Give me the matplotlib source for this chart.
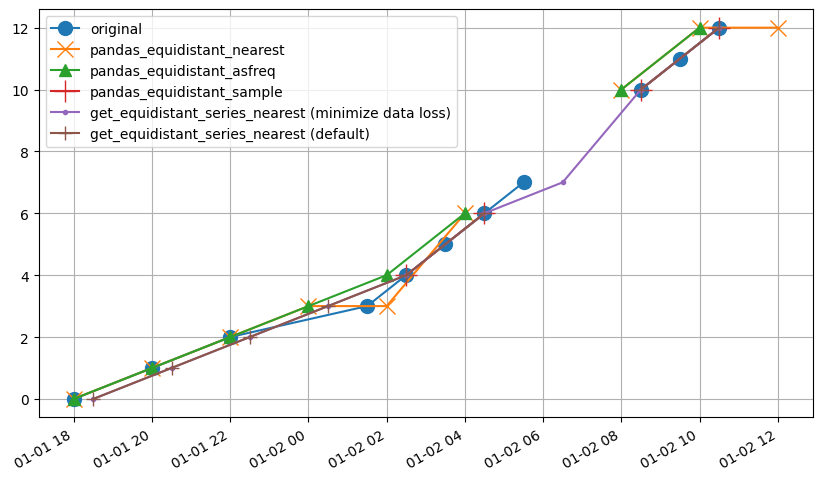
import numpy as np
import pandas as pd
from matplotlib import pyplot as plt
import matplotlib.dates as mdates

nan = np.nan

# original (irregular) series
orig_times = ["2021-01-01 18:00", "2021-01-01 20:00", "2021-01-01 22:00",
              "2021-01-02 01:30", "2021-01-02 02:30", "2021-01-02 03:30",
              "2021-01-02 04:30", "2021-01-02 05:30", "2021-01-02 07:00",
              "2021-01-02 08:30", "2021-01-02 09:30", "2021-01-02 10:30"]
orig_values = [0, 1, 2, 3, 4, 5, 6, 7, nan, 10, 11, 12]

# equidistant grid on the full hour
grid_times = ["2021-01-01 18:00", "2021-01-01 20:00", "2021-01-01 22:00",
              "2021-01-02 00:00", "2021-01-02 02:00", "2021-01-02 04:00",
              "2021-01-02 06:00", "2021-01-02 08:00", "2021-01-02 10:00",
              "2021-01-02 12:00"]
nearest_values = [0, 1, 2, 3, 3, 6, nan, 10, 12, 12]
asfreq_values = [0, 1, 2, 3, 4, 6, nan, 10, 12, nan]

# equidistant grid on the half hour
half_times = ["2021-01-01 18:30", "2021-01-01 20:30", "2021-01-01 22:30",
              "2021-01-02 00:30", "2021-01-02 02:30", "2021-01-02 04:30",
              "2021-01-02 06:30", "2021-01-02 08:30", "2021-01-02 10:30"]
sample_values = [nan, nan, nan, nan, 4, 6, nan, 10, 12]
min_loss_values = [0, 1, 2, 3, 4, 6, 7, 10, 12]
default_values = [0, 1, 2, 3, 4, 6, nan, 10, 12]

orig_t = pd.to_datetime(orig_times)
grid_t = pd.to_datetime(grid_times)
half_t = pd.to_datetime(half_times)

fig, ax = plt.subplots(figsize=(8.22, 4.81), dpi=100)
fig.subplots_adjust(left=0.047, right=0.989, top=0.979, bottom=0.13)

ax.plot(orig_t, orig_values, marker="o", markersize=10, label="original")
ax.plot(grid_t, nearest_values, marker="x", markersize=11, label="pandas_equidistant_nearest")
ax.plot(grid_t, asfreq_values, marker="^", markersize=9, label="pandas_equidistant_asfreq")
ax.plot(half_t, sample_values, marker="+", markersize=16, label="pandas_equidistant_sample")
ax.plot(half_t, min_loss_values, marker=".", label="get_equidistant_series_nearest (minimize data loss)")
ax.plot(half_t, default_values, marker="+", markersize=10, label="get_equidistant_series_nearest (default)")

ax.set_xlim(pd.Timestamp("2021-01-01 17:06"), pd.Timestamp("2021-01-02 12:54"))
ax.xaxis.set_major_locator(mdates.HourLocator(byhour=range(0, 24, 2)))
ax.xaxis.set_major_formatter(mdates.DateFormatter("%m-%d %H"))
for lbl in ax.get_xticklabels():
    lbl.set_rotation(30)
    lbl.set_ha("right")

ax.grid(True)
ax.legend(loc="upper left")

plt.savefig("out.png")
